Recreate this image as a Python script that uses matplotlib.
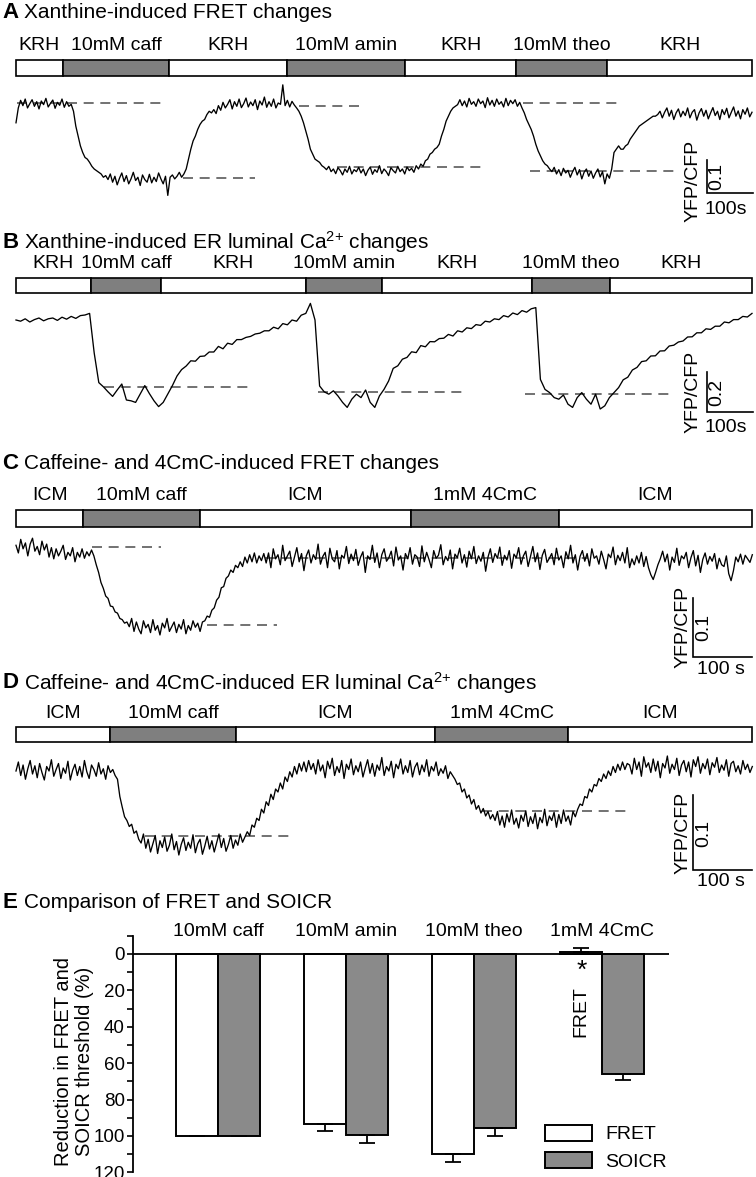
import numpy as np
import matplotlib
matplotlib.use("Agg")
import matplotlib.pyplot as plt
from matplotlib.patches import Rectangle, Patch

plt.rcParams['font.family'] = ['Liberation Sans', 'DejaVu Sans']
plt.rcParams['mathtext.fontset'] = 'custom'
plt.rcParams['mathtext.rm'] = 'Liberation Sans'
plt.rcParams['mathtext.it'] = 'Liberation Sans:italic'
plt.rcParams['mathtext.bf'] = 'Liberation Sans:bold'

# ======================= DATA =======================
# Panel A: xanthine-induced FRET changes (YFP/CFP ratio, one reading every 5 s)
a_dt = 5.0
a_ratio = [
    0.940, 0.985, 1.008, 0.992, 1.012, 0.985, 0.998, 1.010, 0.990, 1.004,
    0.982, 1.006, 0.995, 1.014, 0.988, 0.999, 1.009, 0.984, 1.002, 0.993,
    1.012, 0.987, 1.004, 0.990, 0.996, 0.975, 0.930, 0.900, 0.870, 0.850,
    0.835, 0.830, 0.820, 0.808, 0.800, 0.795, 0.790, 0.785, 0.775, 0.780,
    0.768, 0.785, 0.760, 0.778, 0.752, 0.772, 0.788, 0.762, 0.780, 0.755,
    0.770, 0.790, 0.765, 0.775, 0.750, 0.782, 0.768, 0.760, 0.784, 0.758,
    0.775, 0.762, 0.788, 0.770, 0.755, 0.778, 0.720, 0.775, 0.782, 0.770,
    0.778, 0.790, 0.775, 0.785, 0.800, 0.830, 0.860, 0.885, 0.900, 0.920,
    0.935, 0.945, 0.950, 0.965, 0.975, 0.970, 0.980, 0.968, 0.992, 0.978,
    1.002, 0.985, 0.996, 1.010, 0.982, 1.004, 0.990, 1.012, 0.986, 0.998,
    1.015, 0.988, 1.003, 0.992, 1.010, 0.980, 1.006, 0.994, 1.018, 0.987,
    1.004, 0.990, 1.012, 0.985, 1.000, 0.996, 1.055, 0.992, 1.008, 0.988,
    1.005, 0.994, 0.985, 0.975, 0.960, 0.940, 0.915, 0.890, 0.860, 0.845,
    0.830, 0.825, 0.820, 0.810, 0.805, 0.798, 0.808, 0.792, 0.800, 0.786,
    0.804, 0.795, 0.782, 0.800, 0.790, 0.808, 0.785, 0.798, 0.792, 0.805,
    0.788, 0.800, 0.780, 0.796, 0.806, 0.784, 0.798, 0.790, 0.810, 0.786,
    0.800, 0.792, 0.780, 0.804, 0.795, 0.788, 0.808, 0.792, 0.800, 0.785,
    0.806, 0.795, 0.802, 0.790, 0.810, 0.800, 0.815, 0.808, 0.825, 0.830,
    0.845, 0.850, 0.860, 0.865, 0.875, 0.900, 0.920, 0.945, 0.960, 0.975,
    0.985, 0.990, 0.995, 1.010, 0.992, 1.006, 0.988, 1.014, 0.996, 1.004,
    0.990, 1.012, 0.998, 1.006, 0.986, 1.016, 0.994, 1.008, 0.990, 1.012,
    0.996, 1.004, 0.988, 1.014, 0.992, 1.008, 0.998, 1.010, 0.990, 1.002,
    0.985, 0.970, 0.950, 0.935, 0.920, 0.900, 0.875, 0.855, 0.840, 0.825,
    0.815, 0.810, 0.800, 0.792, 0.805, 0.785, 0.798, 0.780, 0.802, 0.788,
    0.796, 0.775, 0.792, 0.805, 0.782, 0.798, 0.770, 0.790, 0.800, 0.778,
    0.794, 0.772, 0.788, 0.800, 0.776, 0.792, 0.755, 0.785, 0.772, 0.800,
    0.850, 0.860, 0.870, 0.860, 0.860, 0.870, 0.875, 0.890, 0.900, 0.910,
    0.920, 0.930, 0.935, 0.940, 0.945, 0.950, 0.955, 0.960, 0.960, 0.965,
    0.975, 0.955, 0.972, 0.985, 0.960, 0.978, 0.950, 0.970, 0.982, 0.958,
    0.975, 0.962, 0.985, 0.955, 0.972, 0.980, 0.948, 0.970, 0.983, 0.960,
    0.978, 0.952, 0.970, 0.986, 0.962, 0.975, 0.950, 0.980, 0.965, 0.984,
    0.955, 0.972, 0.988, 0.960, 0.976, 0.952, 0.980, 0.966, 0.985, 0.958,
    0.972]
a_labels = ["KRH", "10mM caff", "KRH", "10mM amin", "KRH", "10mM theo", "KRH"]
a_edges = [0, 102, 333, 589, 846, 1087, 1285, 1600]
a_drug = [False, True, False, True, False, True, False]
a_dash_level = [1.000, 0.773, 0.991, 0.806, 1.000, 0.794]
a_dash_start = [2, 363, 615, 698, 1102, 1117]
a_dash_end = [315, 520, 752, 1017, 1311, 1433]

# Panel B: xanthine-induced ER luminal Ca2+ changes (one reading every 10 s)
b_dt = 10.0
b_ratio = [
    1.000, 0.994, 1.006, 0.990, 1.002, 1.010, 0.996, 1.006, 1.010, 0.998,
    1.014, 1.004, 1.018, 1.008, 1.022, 1.025, 1.033,
    0.835, 0.687, 0.666, 0.641, 0.618, 0.650, 0.680, 0.600, 0.596, 0.588,
    0.630, 0.672, 0.632, 0.596, 0.567, 0.588, 0.630, 0.672, 0.720, 0.752, 0.770,
    0.796, 0.794, 0.818, 0.820, 0.840, 0.840, 0.868, 0.856, 0.884, 0.878,
    0.902, 0.902, 0.913, 0.918, 0.930, 0.934, 0.946, 0.946, 0.964, 0.956,
    0.982, 0.976, 1.000, 0.994, 1.024, 1.033,
    1.083, 1.000, 0.670, 0.641, 0.629, 0.646, 0.620, 0.588, 0.563, 0.604,
    0.629, 0.612, 0.650, 0.588, 0.563, 0.620, 0.653,
    0.695, 0.758, 0.771, 0.804, 0.813, 0.841, 0.837, 0.872, 0.866, 0.892,
    0.891, 0.907, 0.909, 0.928, 0.920, 0.946, 0.940, 0.961, 0.957, 0.977,
    0.973, 0.994, 0.990, 1.006, 1.002, 1.022, 1.015, 1.035, 1.027, 1.047,
    1.039, 1.056, 1.062,
    0.703, 0.653, 0.637, 0.612, 0.604, 0.625, 0.579, 0.563, 0.612, 0.637,
    0.604, 0.579, 0.629, 0.555, 0.571, 0.612, 0.637,
    0.662, 0.701, 0.714, 0.750, 0.763, 0.792, 0.796, 0.820, 0.821, 0.845,
    0.846, 0.870, 0.874, 0.890, 0.895, 0.915, 0.916, 0.936, 0.936, 0.956,
    0.953, 0.969, 0.969, 0.990, 0.986, 1.002, 1.002, 1.018, 1.015, 1.033]
b_labels = ["KRH", "10mM caff", "KRH", "10mM amin", "KRH", "10mM theo", "KRH"]
b_edges = [0, 163, 315, 630, 796, 1122, 1291, 1600]
b_drug = [False, True, False, True, False, True, False]
b_dash_level = [0.665, 0.640, 0.630]
b_dash_start = [191, 657, 1107]
b_dash_end = [511, 972, 1426]

# Panel C: caffeine- and 4CmC-induced FRET changes (one reading every 4 s)
c_dt = 4.0
c_ratio = [
    1.008, 0.995, 1.018, 1.002, 1.012, 0.990, 1.010, 1.020, 0.998, 1.006,
    0.992, 1.015, 1.000, 1.010, 0.988, 1.004, 0.985, 1.002, 0.990, 0.998,
    1.008, 0.984, 0.996, 0.990, 1.004, 0.980, 0.996, 0.988, 1.002, 0.986,
    0.997, 0.990, 1.000,
    0.990, 0.975, 0.962, 0.945, 0.935, 0.922, 0.918, 0.905, 0.904, 0.895,
    0.893, 0.884, 0.882, 0.876, 0.878,
    0.870, 0.884, 0.862, 0.878, 0.866, 0.858, 0.880, 0.868, 0.874, 0.860,
    0.882, 0.864, 0.872, 0.856, 0.876, 0.868, 0.884, 0.862, 0.870, 0.878,
    0.860, 0.874, 0.866, 0.882, 0.858, 0.872, 0.864, 0.880, 0.869, 0.876,
    0.862, 0.878,
    0.880, 0.888, 0.886, 0.898, 0.902, 0.915, 0.920, 0.936, 0.938, 0.952,
    0.956, 0.966, 0.962, 0.974, 0.970, 0.980, 0.972, 0.988, 0.978, 0.992,
    0.980, 0.995, 0.978, 0.990, 0.982, 0.994,
    0.978, 0.995, 0.970, 1.002, 0.985, 0.992, 0.975, 1.008, 0.982, 0.990,
    0.998, 0.972, 0.988, 1.004, 0.980, 0.994, 0.965, 0.990, 1.000, 0.978,
    0.992, 0.984, 1.010, 0.976, 0.989, 0.996, 0.970, 1.003, 0.985, 0.980,
    0.999, 0.968, 0.991, 0.986, 1.006, 0.977, 0.993, 0.982, 1.001, 0.974,
    0.988, 0.997, 0.962, 0.990, 0.984, 1.008, 0.979, 0.995, 0.970, 0.992,
    1.002, 0.981, 0.987, 0.998, 0.973, 1.005, 0.983, 0.990, 0.966, 0.994,
    0.985, 1.004, 0.976, 0.992, 0.988, 0.972, 1.007, 0.980, 0.996, 0.984,
    0.970, 0.999, 0.986, 0.991, 1.009, 0.975, 0.989, 0.982, 1.000, 0.968,
    0.993, 0.987, 1.003, 0.978, 0.992, 0.971, 0.998, 0.985, 1.006, 0.977,
    0.990, 0.981, 0.996, 0.964, 0.988, 1.002, 0.979, 0.994, 0.986, 1.005,
    0.974, 0.991, 0.983, 0.999, 0.969, 0.993, 0.987, 1.004, 0.976, 0.990,
    0.998, 0.972, 0.989, 1.006, 0.980, 0.995, 0.967, 0.991, 1.001, 0.979,
    0.986, 0.994, 0.975, 1.003, 0.983, 0.990, 0.970, 0.997, 0.985, 1.008,
    0.978, 0.992, 0.966, 0.989, 0.999, 0.981, 0.994, 0.973, 1.002, 0.986,
    0.990, 0.976, 0.998, 0.984, 0.968, 0.993, 0.987, 1.005, 0.975, 0.991,
    0.982, 0.996, 0.978, 1.004, 0.970, 0.985, 0.975, 0.990, 0.978, 0.996,
    0.972, 0.989, 0.970, 0.958, 0.950, 0.962, 0.975, 0.985, 0.998, 0.980,
    0.993, 0.966, 0.988, 0.979, 1.003, 0.974, 0.990, 0.985, 0.996, 0.970,
    0.987, 0.999, 0.973, 0.991, 0.962, 0.984, 0.995, 0.976, 0.989, 0.981,
    0.994, 0.968, 0.986, 0.975, 0.972, 0.990, 0.960, 0.948, 0.965, 0.988,
    0.980, 0.993, 0.976, 0.991, 0.985, 0.979, 0.992]
c_labels = ["ICM", "10mM caff", "ICM", "1mM 4CmC", "ICM"]
c_edges = [0, 114, 312, 669, 920, 1247]
c_drug = [False, True, False, True, False]
c_dash_level = [1.005, 0.873, 0.986]
c_dash_start = [129, 324, 422]
c_dash_end = [246, 442, 969]

# Panel D: caffeine- and 4CmC-induced ER luminal Ca2+ changes (one reading every 4 s)
d_dt = 4.0
d_ratio = [
    0.996, 1.008, 0.990, 1.004, 0.985, 0.999, 1.010, 0.992, 1.003, 0.987,
    1.006, 0.994, 0.984, 1.002, 0.996, 1.011, 0.989, 0.998, 1.006, 0.986,
    1.000, 0.993, 1.009, 0.984, 0.997, 1.005, 0.990, 1.002, 0.988, 1.010,
    0.995, 0.986, 1.004, 0.998, 0.989, 1.007, 0.992, 0.999, 0.985, 1.003,
    0.994, 0.998, 0.990,
    0.985, 0.962, 0.948, 0.935, 0.930, 0.922, 0.925, 0.913, 0.916, 0.905,
    0.900, 0.912, 0.893, 0.905, 0.888, 0.899, 0.910, 0.886, 0.903, 0.894,
    0.908, 0.889, 0.897, 0.912, 0.891, 0.902, 0.884, 0.898, 0.907, 0.890,
    0.901, 0.893, 0.911, 0.887, 0.899, 0.905, 0.885, 0.896, 0.909, 0.892,
    0.903, 0.888, 0.900, 0.912, 0.894, 0.906, 0.889, 0.898, 0.910, 0.893,
    0.904, 0.897, 0.912, 0.901,
    0.908, 0.915, 0.910, 0.924, 0.921, 0.933, 0.930, 0.945, 0.940, 0.955,
    0.950, 0.965, 0.958, 0.972, 0.968, 0.980, 0.972, 0.988, 0.982, 0.995,
    0.988, 1.002, 0.992, 1.006, 0.996, 1.008, 0.995, 1.010, 0.998,
    1.006, 0.992, 1.011, 0.996, 1.004, 0.987, 1.009, 0.999, 1.013, 0.990,
    1.002, 0.994, 1.010, 0.986, 1.005, 0.998, 1.012, 0.991, 1.003, 0.995,
    1.008, 0.988, 1.000, 1.011, 0.993, 1.006, 0.989, 1.004, 0.997, 1.014,
    0.990, 1.002, 0.996, 1.009, 0.987, 1.005, 0.999, 1.012, 0.992, 1.003,
    0.994, 1.010, 0.988, 1.001, 1.007, 0.991, 1.004, 0.995, 1.011, 0.989,
    1.002, 0.996, 1.008, 0.990, 0.999, 0.993, 1.003, 0.986, 0.995, 0.990,
    0.985, 0.978, 0.980, 0.968, 0.972, 0.960, 0.964, 0.952, 0.958, 0.945,
    0.950, 0.940, 0.946, 0.936, 0.942, 0.932, 0.938,
    0.930, 0.942, 0.924, 0.936, 0.921, 0.939, 0.928, 0.944, 0.925, 0.933,
    0.920, 0.937, 0.929, 0.943, 0.922, 0.935, 0.926, 0.940, 0.919, 0.934,
    0.927, 0.945, 0.923, 0.936, 0.930, 0.941, 0.921, 0.938, 0.926, 0.944,
    0.929, 0.936, 0.924, 0.942, 0.935,
    0.945, 0.952, 0.950, 0.962, 0.960, 0.972, 0.968, 0.978, 0.976, 0.986,
    0.982, 0.992, 0.986, 0.996, 0.990, 1.002, 0.994, 1.005, 0.997, 1.008,
    0.998, 1.006,
    1.004, 0.992, 1.013, 0.998, 1.008, 0.989, 1.015, 1.001, 1.007, 0.994,
    1.012, 0.996, 1.009, 0.987, 1.006, 1.000, 1.016, 0.993, 1.005, 0.998,
    1.013, 0.990, 1.004, 1.010, 0.995, 1.008, 0.988, 1.011, 1.002, 1.015,
    0.993, 1.006, 0.999, 1.012, 0.991, 1.007, 1.001, 1.014, 0.994, 1.004,
    0.997, 1.011, 0.989, 1.006, 1.009, 0.995, 1.003, 0.992, 1.010, 0.998,
    1.005, 0.994, 1.002]
d_labels = ["ICM", "10mM caff", "ICM", "1mM 4CmC", "ICM"]
d_edges = [0, 159, 373, 710, 936, 1247]
d_drug = [False, True, False, True, False]
d_dash_level = [0.909, 0.943]
d_dash_start = [219, 790]
d_dash_end = [468, 1039]

# Panel E: comparison of FRET and SOICR (% reduction)
e_groups = ["10mM caff", "10mM amin", "10mM theo", "1mM 4CmC"]
e_fret = [100.0, 93.6, 109.7, -1.3]
e_fret_err = [0.0, 3.6, 4.6, 1.8]
e_soicr = [100.0, 99.3, 95.6, 65.7]
e_soicr_err = [0.0, 4.4, 4.6, 3.3]

# ======================= LAYOUT =======================
W, H = 756, 1177
fig = plt.figure(figsize=(W / 100, H / 100), dpi=100)
X0 = 16  # left pixel of traces / protocol bars

FS = 14
GRAY = '#7f7f7f'
DASH = '#5a5a5a'


def fy(y):
    return 1 - y / H


def title(y, letter, text):
    fig.text(2 / W, fy(y), letter, fontsize=16, fontweight='bold', va='center', ha='left')
    fig.text(24 / W, fy(y), text, fontsize=15, va='center', ha='left')


def base_axes(ytop, ybot, pps):
    ax = fig.add_axes([0, fy(ybot), 1, (ybot - ytop) / H])
    ax.set_xlim(-X0 / pps, (W - X0) / pps)
    ax.axis('off')
    return ax


def protocol(ytop, ybot, label_dy, pps, edges, labels, drug):
    ax = base_axes(ytop, ybot, pps)
    ax.set_ylim(0, 1)
    for i in range(len(labels)):
        t0, t1 = edges[i], edges[i + 1]
        ax.add_patch(Rectangle((t0, 0), t1 - t0, 1, facecolor=GRAY if drug[i] else 'white',
                               edgecolor='black', lw=1.2, clip_on=False, zorder=2))
        ax.text((t0 + t1) / 2, 1 + label_dy / (ybot - ytop), labels[i], ha='center', va='center',
                fontsize=FS, clip_on=False)
    return ax


def trace(ytop, ybot, pps, yref, k, dt, vals, dl, ds, de, sb):
    ax = base_axes(ytop, ybot, pps)
    ax.set_ylim(1 - (ybot - yref) * k, 1 - (ytop - yref) * k)
    v = np.asarray(vals)
    t = np.arange(len(v)) * dt
    ax.plot(t, v, color='black', lw=0.95, zorder=3)
    ax.hlines(dl, ds, de, colors=DASH, linestyles=(0, (6, 4)), lw=1.2, zorder=2)
    # scale bar
    sx, sy_bot, slen, tlen, lab_v, lab_t, pos = sb
    ts = (sx - X0) / pps
    rb = 1 - (sy_bot - yref) * k
    ax.plot([ts, ts, ts + tlen], [rb + slen, rb, rb], color='black', lw=1.2, clip_on=False,
            solid_joinstyle='miter')
    (vx, vy), (yx, yy), (hx, hy) = pos
    fig.text(vx / W, fy(vy), lab_v, rotation=90, fontsize=FS, ha='center', va='center')
    fig.text(yx / W, fy(yy), 'YFP/CFP', rotation=90, fontsize=FS, ha='center', va='center')
    fig.text(hx / W, fy(hy), lab_t, fontsize=FS, ha='center', va='center')
    return ax


# ---- Panel A ----
title(12, 'A', 'Xanthine-induced FRET changes')
protocol(60, 76, 15, 0.46, a_edges, a_labels, a_drug)
trace(78, 200, 0.46, 103, 0.1 / 33, a_dt, a_ratio, a_dash_level, a_dash_start, a_dash_end,
      (707, 193, 0.1, 100, '0.1', '100s', ((717, 176), (693, 181), (726, 210))))

# ---- Panel B ----
title(242, 'B', r'Xanthine-induced ER luminal Ca$^{2{+}}$ changes')
protocol(278, 293, 14, 0.46, b_edges, b_labels, b_drug)
trace(295, 420, 0.46, 320, 0.2 / 40, b_dt, b_ratio, b_dash_level, b_dash_start, b_dash_end,
      (707, 412, 0.2, 100, '0.2', '100s', ((717, 392), (693, 392), (726, 428))))

# ---- Panel C ----
title(463, 'C', 'Caffeine- and 4CmC-induced FRET changes')
protocol(510, 527, 15, 0.59, c_edges, c_labels, c_drug)
trace(529, 680, 0.59, 550, 0.1 / 59, c_dt, c_ratio, c_dash_level, c_dash_start, c_dash_end,
      (693, 657, 0.1, 100, '0.1', '100 s', ((704, 627), (683, 627), (721, 669))))

# ---- Panel D ----
title(683, 'D', r'Caffeine- and 4CmC-induced ER luminal Ca$^{2{+}}$ changes')
protocol(727, 742, 13, 0.59, d_edges, d_labels, d_drug)
trace(744, 895, 0.59, 768, 0.1 / 75, d_dt, d_ratio, d_dash_level, d_dash_start, d_dash_end,
      (693, 870, 0.1, 100, '0.1', '100 s', ((704, 833), (683, 833), (721, 882))))

# ---- Panel E ----
title(902, 'E', 'Comparison of FRET and SOICR')
px_unit = 1.82
y0px = 954
ytop_px = y0px - 10 * px_unit
ybot_px = y0px + 120 * px_unit
xg0 = 218
xpu = 128
axl, axr = 133, 669
ax = fig.add_axes([axl / W, fy(ybot_px), (axr - axl) / W, (ybot_px - ytop_px) / H])
ax.set_xlim((axl - xg0) / xpu, (axr - xg0) / xpu)
ax.set_ylim(120, -10)
x = np.arange(len(e_groups))
w = 0.332
fret = np.array(e_fret)
soicr = np.array(e_soicr)
fe = np.array(e_fret_err)
se = np.array(e_soicr_err)
ax.bar(x - w / 2, fret, w, color='white', edgecolor='black', lw=1.4, zorder=2)
ax.bar(x + w / 2, soicr, w, color='#8a8a8a', edgecolor='black', lw=1.4, zorder=2)
f_lo = np.where(fret < 0, fe, 0)
f_hi = np.where(fret < 0, 0, fe)
s_lo = np.where(soicr < 0, se, 0)
s_hi = np.where(soicr < 0, 0, se)
ax.errorbar(x - w / 2, fret, yerr=[f_lo, f_hi], fmt='none', ecolor='black', elinewidth=1.3,
            capsize=6, capthick=1.3, zorder=3)
ax.errorbar(x + w / 2, soicr, yerr=[s_lo, s_hi], fmt='none', ecolor='black', elinewidth=1.3,
            capsize=6, capthick=1.3, zorder=3)
ax.axhline(0, color='black', lw=1.3, zorder=4)
for s in ['top', 'right', 'bottom']:
    ax.spines[s].set_visible(False)
ax.spines['left'].set_linewidth(1.3)
ax.set_xticks([])
ax.set_yticks(np.arange(0, 121, 20))
ax.set_yticks(np.arange(-10, 121, 10), minor=True)
ax.tick_params(axis='y', which='major', length=4, width=1.2, labelsize=13.5, pad=2)
ax.tick_params(axis='y', which='minor', length=4, width=1.2)
for i, g in enumerate(e_groups):
    ax.text(x[i], -12.3, g, ha='center', va='center', fontsize=FS, clip_on=False)
ax.text(x[3] - w / 2, 31.5, 'FRET', rotation=90, ha='center', va='center', fontsize=FS)
ax.text(x[3] - w / 2 + 0.01, 9.5, '*', ha='center', va='center', fontsize=19)
fig.text(74 / W, fy(1061), 'Reduction in FRET and\nSOICR threshold (%)', rotation=90,
         ha='center', va='center', fontsize=14.5, linespacing=1.1)
handles = [Patch(facecolor='white', edgecolor='black', lw=1.4, label='FRET'),
           Patch(facecolor='#8a8a8a', edgecolor='black', lw=1.4, label='SOICR')]
fig.legend(handles=handles, loc='upper left', bbox_to_anchor=(545 / W, fy(1125)),
           frameon=False, fontsize=FS, handlelength=2.4, handleheight=0.85,
           handletextpad=0.7, labelspacing=0.45, borderpad=0, borderaxespad=0)

fig.savefig('out.png', dpi=100)
